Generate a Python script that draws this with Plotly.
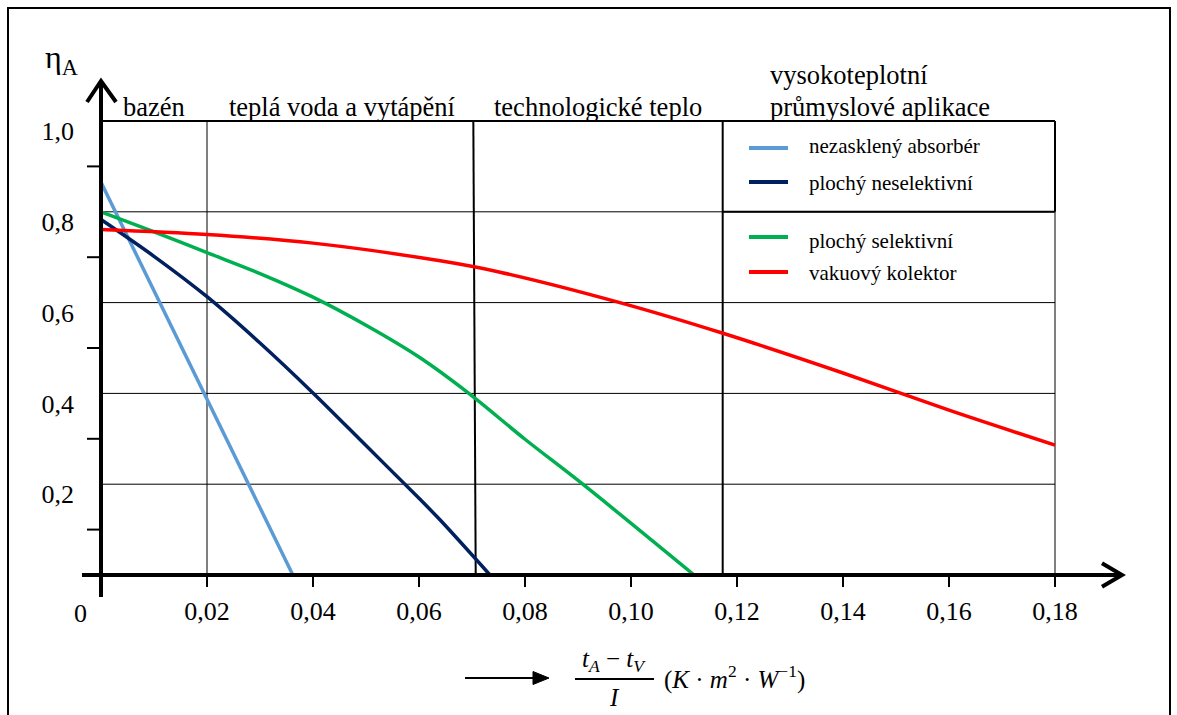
import plotly.graph_objects as go

# ---------------- data ----------------
series_names = ["nezasklený absorbér", "plochý neselektivní", "plochý selektivní", "vakuový kolektor"]
series_colors = ["#5B9BD5", "#002060", "#00B050", "#FF0000"]

absorber_x = [0.0, 0.0362]
absorber_y = [0.865, 0.0]

neselektivni_x = [0.0, 0.01, 0.02, 0.03, 0.04, 0.05, 0.06, 0.064, 0.0734]
neselektivni_y = [0.783, 0.702, 0.613, 0.511, 0.401, 0.285, 0.169, 0.121, 0.0]

selektivni_x = [0.0, 0.01, 0.02, 0.03, 0.04, 0.05, 0.06, 0.0694, 0.08, 0.0909, 0.1119]
selektivni_y = [0.80, 0.756, 0.71, 0.664, 0.612, 0.550, 0.480, 0.40, 0.299, 0.2, 0.0]

vakuovy_x = [0.0, 0.02, 0.04, 0.064, 0.0753, 0.0979, 0.1172, 0.14, 0.16, 0.18]
vakuovy_y = [0.761, 0.750, 0.731, 0.692, 0.667, 0.600, 0.533, 0.445, 0.363, 0.286]

x_tick_vals = [0.02, 0.04, 0.06, 0.08, 0.10, 0.12, 0.14, 0.16, 0.18]
x_tick_text = ["0,02", "0,04", "0,06", "0,08", "0,10", "0,12", "0,14", "0,16", "0,18"]
y_tick_vals = [0.2, 0.4, 0.6, 0.8, 1.0]
y_tick_text = ["0,2", "0,4", "0,6", "0,8", "1,0"]
y_minor_ticks = [0.1, 0.3, 0.5, 0.7, 0.9]

grid_y = [0.2, 0.4, 0.6, 0.8]
x_max = 0.18
y_max = 1.0
region_names = ["bazén", "teplá voda a vytápění", "technologické teplo"]
region_high_names = ["vysokoteplotní", "průmyslové aplikace"]
bound_bazen = 0.02
bound_tech_top, bound_tech_bottom = 0.07025, 0.0707
bound_high = 0.1173

# ---------------- geometry ----------------
FIG_W, FIG_H = 1177, 715
L, R, T, B = 78, 1135, 76, 600
X0_PX, PX_PER_X = 101, 5300.0
Y0_PX, PX_PER_Y = 575, 454.0
x_range = [(L - X0_PX) / PX_PER_X, (R - X0_PX) / PX_PER_X]
y_range = [(Y0_PX - B) / PX_PER_Y, (Y0_PX - T) / PX_PER_Y]


def px(x):
    return (x - L) / (R - L)


def py(y):
    return (B - y) / (B - T)


def dx(p):
    return p / PX_PER_X


def dy(p):
    return p / PX_PER_Y


FONT = '"Liberation Serif", "Times New Roman", serif'

fig = go.Figure()
for xs, ys, name, col in [
    (absorber_x, absorber_y, series_names[0], series_colors[0]),
    (neselektivni_x, neselektivni_y, series_names[1], series_colors[1]),
    (selektivni_x, selektivni_y, series_names[2], series_colors[2]),
    (vakuovy_x, vakuovy_y, series_names[3], series_colors[3]),
]:
    fig.add_trace(go.Scatter(x=xs, y=ys, mode="lines", name=name,
                             line=dict(color=col, width=3.5, shape="spline", smoothing=0.9),
                             showlegend=False, hoverinfo="skip"))

shapes = []
# grid
for g in grid_y:
    shapes.append(dict(type="line", xref="x", yref="y", x0=0, x1=x_max, y0=g, y1=g,
                       line=dict(color="#000", width=1), layer="below"))
shapes.append(dict(type="line", xref="x", yref="y", x0=0, x1=x_max, y0=y_max, y1=y_max,
                   line=dict(color="#000", width=2), layer="below"))
shapes.append(dict(type="line", xref="x", yref="y", x0=bound_bazen, x1=bound_bazen, y0=0, y1=y_max,
                   line=dict(color="#000", width=1), layer="below"))
shapes.append(dict(type="line", xref="x", yref="y", x0=bound_tech_top, x1=bound_tech_bottom, y0=y_max, y1=0,
                   line=dict(color="#000", width=2), layer="below"))
shapes.append(dict(type="line", xref="x", yref="y", x0=bound_high, x1=bound_high, y0=0, y1=y_max,
                   line=dict(color="#000", width=2), layer="below"))
shapes.append(dict(type="line", xref="x", yref="y", x0=x_max, x1=x_max, y0=0, y1=y_max,
                   line=dict(color="#000", width=1), layer="below"))
# legend box emphasis
shapes.append(dict(type="line", xref="x", yref="y", x0=bound_high, x1=x_max, y0=0.8, y1=0.8,
                   line=dict(color="#000", width=2), layer="below"))
shapes.append(dict(type="line", xref="x", yref="y", x0=x_max, x1=x_max, y0=0.8, y1=y_max,
                   line=dict(color="#000", width=2), layer="below"))

# axes
shapes.append(dict(type="line", xref="x", yref="y", x0=dx(-19), x1=dx(1021), y0=0, y1=0,
                   line=dict(color="#000", width=4)))
shapes.append(dict(type="path", xref="x", yref="y",
                   path=f"M {dx(1001)},{dy(11.7)} L {dx(1021)},0 L {dx(1001)},{dy(-11.7)}",
                   line=dict(color="#000", width=4)))
shapes.append(dict(type="line", xref="x", yref="y", x0=0, x1=0, y0=dy(-22), y1=dy(494),
                   line=dict(color="#000", width=4)))
shapes.append(dict(type="path", xref="x", yref="y",
                   path=f"M {dx(-14)},{dy(473)} L 0,{dy(494)} L {dx(15)},{dy(473)}",
                   line=dict(color="#000", width=4)))
for t in x_tick_vals:
    shapes.append(dict(type="line", xref="x", yref="y", x0=t, x1=t, y0=0, y1=dy(-12),
                       line=dict(color="#000", width=2)))
for t in y_minor_ticks:
    shapes.append(dict(type="line", xref="x", yref="y", x0=dx(-14), x1=0, y0=t, y1=t,
                       line=dict(color="#000", width=2)))

# outer frame
shapes.append(dict(type="rect", xref="paper", yref="paper", x0=px(8), x1=px(1170), y0=py(722), y1=py(8),
                   line=dict(color="#000", width=2), fillcolor="rgba(0,0,0,0)"))

# legend samples
legend_y_px = [148, 182, 237, 272]
legend_text_y_px = [146, 183, 241, 273]
annotations = []
for name, col, ly, ty in zip(series_names, series_colors, legend_y_px, legend_text_y_px):
    shapes.append(dict(type="line", xref="paper", yref="paper", x0=px(749), x1=px(788), y0=py(ly), y1=py(ly),
                       line=dict(color=col, width=4)))
    annotations.append(dict(xref="paper", yref="paper", x=px(807), y=py(ty), text=name, showarrow=False,
                            xanchor="left", yanchor="middle", font=dict(family=FONT, size=21, color="#000")))

# x-axis label arrow
shapes.append(dict(type="line", xref="paper", yref="paper", x0=px(465), x1=px(536), y0=py(678), y1=py(678),
                   line=dict(color="#000", width=2)))
shapes.append(dict(type="path", xref="paper", yref="paper",
                   path=f"M {px(533)},{py(671.5)} L {px(549)},{py(678)} L {px(533)},{py(684.5)} Z",
                   fillcolor="#000", line=dict(color="#000", width=1)))
shapes.append(dict(type="line", xref="paper", yref="paper", x0=px(575), x1=px(654), y0=py(679), y1=py(679),
                   line=dict(color="#000", width=2)))

# region headers
hdr = [
    dict(xref="paper", yref="paper", x=px(121), y=py(107), text=region_names[0]),
    dict(xref="paper", yref="paper", x=px(227), y=py(107), text=region_names[1]),
    dict(xref="paper", yref="paper", x=px(492), y=py(107), text=region_names[2]),
    dict(xref="paper", yref="paper", x=px(768), y=py(75), text=region_high_names[0]),
    dict(xref="paper", yref="paper", x=px(768), y=py(107), text=region_high_names[1]),
]
for a in hdr:
    a.update(showarrow=False, xanchor="left", yanchor="middle", font=dict(family=FONT, size=26.5, color="#000"))
annotations += hdr

annotations += [
    dict(xref="paper", yref="paper", x=px(61), y=py(59), text="η<sub>A</sub>", showarrow=False,
         xanchor="center", yanchor="middle", font=dict(family=FONT, size=32, color="#000")),
    dict(xref="paper", yref="paper", x=px(80), y=py(613), text="0", showarrow=False,
         xanchor="center", yanchor="middle", font=dict(family=FONT, size=26, color="#000")),
    dict(xref="paper", yref="paper", x=px(614), y=py(660), text="<i>t</i><sub><i>A</i></sub> − <i>t</i><sub><i>V</i></sub>",
         showarrow=False, xanchor="center", yanchor="middle", font=dict(family=FONT, size=25, color="#000")),
    dict(xref="paper", yref="paper", x=px(614), y=py(697), text="<i>I</i>",
         showarrow=False, xanchor="center", yanchor="middle", font=dict(family=FONT, size=25, color="#000")),
    dict(xref="paper", yref="paper", x=px(662), y=py(677),
         text="(<i>K</i> · <i>m</i><sup>2</sup> · <i>W</i><sup>−1</sup>)",
         showarrow=False, xanchor="left", yanchor="middle", font=dict(family=FONT, size=25, color="#000")),
]

fig.update_layout(
    width=FIG_W, height=FIG_H,
    margin=dict(l=L, r=FIG_W - R, t=T, b=FIG_H - B, pad=0),
    paper_bgcolor="white", plot_bgcolor="white",
    shapes=shapes, annotations=annotations,
    font=dict(family=FONT, color="#000"),
    xaxis=dict(range=x_range, showgrid=False, zeroline=False, showline=False, ticks="",
               tickvals=x_tick_vals, ticktext=x_tick_text, tickfont=dict(family=FONT, size=26, color="#000"),
               ticklabelstandoff=-7, fixedrange=True),
    yaxis=dict(range=y_range, showgrid=False, zeroline=False, showline=False, ticks="",
               tickvals=y_tick_vals, ticktext=y_tick_text, tickfont=dict(family=FONT, size=26, color="#000"),
               ticklabelshift=10, ticklabelstandoff=3, fixedrange=True),
)

fig.write_html("out.html",
               config={"displayModeBar": False, "staticPlot": True},
               post_script="document.body.style.margin='0';document.body.style.overflow='hidden';")
